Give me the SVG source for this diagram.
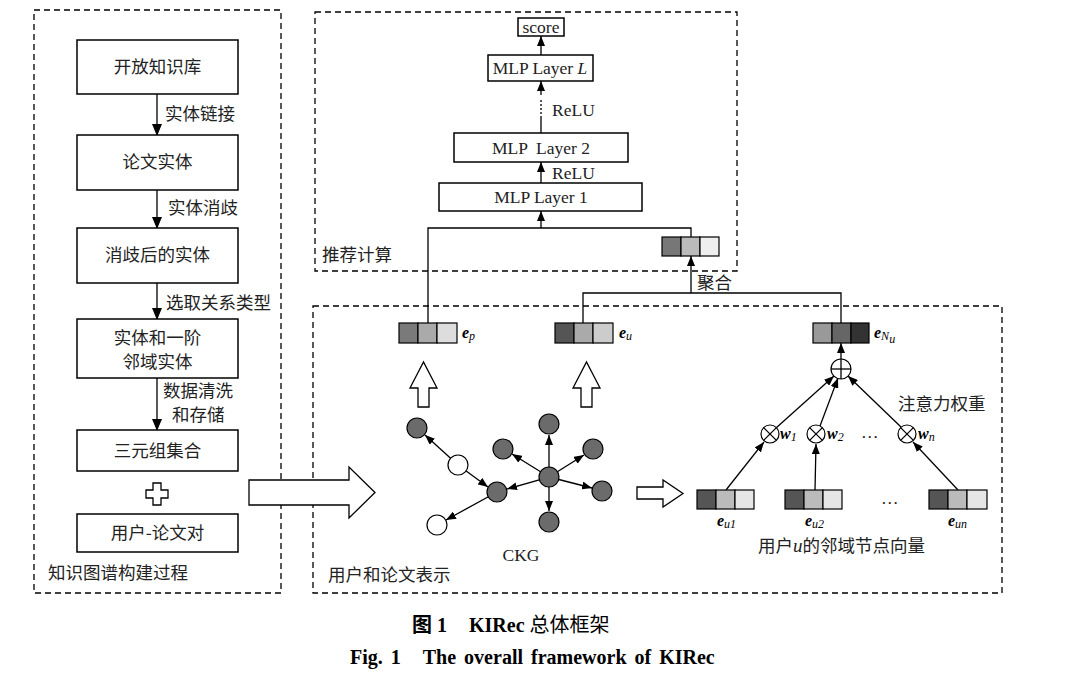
<svg xmlns="http://www.w3.org/2000/svg" width="1089" height="694" viewBox="0 0 1089 694">
<style>
.frame{fill:none;stroke:#000;stroke-width:1.3;stroke-dasharray:6,4}
.box{fill:#fff;stroke:#000;stroke-width:1.5}
.ln{fill:none;stroke:#000;stroke-width:1.3}
.cn{font-family:"Noto Sans CJK SC","Liberation Sans",sans-serif;font-size:17.5px;fill:#222}
.en{font-family:"Liberation Serif",serif;font-size:17.5px;fill:#222}
.hol{fill:#fff;stroke:#000;stroke-width:1.3}
.node{fill:#6b6b6b;stroke:#000;stroke-width:1.2}
.wnode{fill:#fff;stroke:#000;stroke-width:1.2}
.cell{stroke:#000;stroke-width:1.2}
.vl{font-family:"Liberation Serif",serif;font-size:16px;font-weight:bold;font-style:italic}
.sub{font-family:"Liberation Serif",serif;font-size:12px;font-weight:normal;font-style:italic}
.cap{font-family:"Liberation Serif","Noto Sans CJK SC",serif;font-size:20px;font-weight:bold}
</style>
<defs>
<marker id="ah" markerUnits="userSpaceOnUse" markerWidth="12" markerHeight="10" refX="11" refY="5" orient="auto"><path d="M0,0 L12,5 L0,10 z" fill="#000"/></marker>
<marker id="ahs" markerUnits="userSpaceOnUse" markerWidth="10" markerHeight="8" refX="10" refY="4" orient="auto"><path d="M0,0 L10,4 L0,8 z" fill="#000"/></marker>
</defs>

<!-- frames -->
<rect class="frame" x="34" y="10" width="247" height="583"/>
<rect class="frame" x="315" y="12" width="422" height="259"/>
<rect class="frame" x="313" y="306" width="689" height="287"/>
<text class="cn" x="48" y="579">知识图谱构建过程</text>
<text class="cn" x="322" y="261">推荐计算</text>
<text class="cn" x="328" y="581">用户和论文表示</text>

<!-- connectors -->
<g id="connectors">
<line class="ln" x1="157" y1="94" x2="157" y2="135" marker-end="url(#ah)"/>
<line class="ln" x1="157" y1="190" x2="157" y2="228" marker-end="url(#ah)"/>
<line class="ln" x1="157" y1="283" x2="157" y2="319" marker-end="url(#ah)"/>
<line class="ln" x1="157" y1="378" x2="157" y2="430" marker-end="url(#ah)"/>
<text class="cn" x="165" y="120">实体链接</text>
<text class="cn" x="168" y="214">实体消歧</text>
<text class="cn" x="166" y="309">选取关系类型</text>
<text class="cn" x="163" y="397">数据清洗</text>
<text class="cn" x="172" y="421">和存储</text>

<!-- MLP stack -->
<line class="ln" x1="541" y1="55" x2="541" y2="36" marker-end="url(#ahs)"/>
<line class="ln" x1="541" y1="95" x2="541" y2="81" marker-end="url(#ahs)"/>
<line class="ln" x1="541" y1="100" x2="541" y2="118" stroke-dasharray="2,2"/>
<line class="ln" x1="541" y1="133" x2="541" y2="118"/>
<line class="ln" x1="541" y1="183" x2="541" y2="162" marker-end="url(#ahs)"/>
<line class="ln" x1="541" y1="228" x2="541" y2="211" marker-end="url(#ahs)"/>
<text class="en" x="552" y="116">ReLU</text>
<text class="en" x="552" y="179">ReLU</text>
<polyline class="ln" points="428,323 428,228 691,228 691,237"/>
<line class="ln" x1="691" y1="293" x2="691" y2="256" marker-end="url(#ahs)"/>
<polyline class="ln" points="583,323 583,293 841,293 841,323"/>
<text class="cn" x="697" y="289">聚合</text>

<!-- CKG edges -->
<line class="ln" x1="458" y1="465" x2="425" y2="435" marker-end="url(#ahs)"/>
<line class="ln" x1="458" y1="465" x2="488" y2="487" marker-end="url(#ahs)"/>
<line class="ln" x1="497" y1="492" x2="446" y2="520" marker-end="url(#ahs)"/>
<line class="ln" x1="549" y1="477" x2="507" y2="489" marker-end="url(#ahs)"/>
<line class="ln" x1="549" y1="477" x2="549" y2="435" marker-end="url(#ahs)"/>
<line class="ln" x1="549" y1="477" x2="512" y2="454" marker-end="url(#ahs)"/>
<line class="ln" x1="549" y1="477" x2="584" y2="455" marker-end="url(#ahs)"/>
<line class="ln" x1="549" y1="477" x2="592" y2="488" marker-end="url(#ahs)"/>
<line class="ln" x1="549" y1="477" x2="549" y2="511" marker-end="url(#ahs)"/>

<!-- attention -->
<line class="ln" x1="841" y1="359" x2="841" y2="343" marker-end="url(#ahs)"/>
<line class="ln" x1="776" y1="428" x2="834" y2="376" marker-end="url(#ahs)"/>
<line class="ln" x1="820" y1="426" x2="838" y2="378" marker-end="url(#ahs)"/>
<line class="ln" x1="901" y1="427" x2="848" y2="376" marker-end="url(#ahs)"/>
<line class="ln" x1="726" y1="490" x2="764" y2="442" marker-end="url(#ahs)"/>
<line class="ln" x1="815" y1="490" x2="816" y2="444" marker-end="url(#ahs)"/>
<line class="ln" x1="958" y1="490" x2="913" y2="442" marker-end="url(#ahs)"/>
</g>

<!-- left column nodes -->
<g id="n-kb"><rect class="box" x="77" y="40" width="161" height="54"/><text class="cn" x="157.5" y="73" text-anchor="middle">开放知识库</text></g>
<g id="n-paper"><rect class="box" x="77" y="135" width="161" height="55"/><text class="cn" x="157.5" y="168" text-anchor="middle">论文实体</text></g>
<g id="n-disamb"><rect class="box" x="77" y="228" width="161" height="55"/><text class="cn" x="157.5" y="261" text-anchor="middle">消歧后的实体</text></g>
<g id="n-neigh"><rect class="box" x="77" y="319" width="161" height="59"/><text class="cn" x="157.5" y="344" text-anchor="middle">实体和一阶</text><text class="cn" x="157.5" y="368" text-anchor="middle">邻域实体</text></g>
<g id="n-triple"><rect class="box" x="77" y="430" width="161" height="41"/><text class="cn" x="157.5" y="457" text-anchor="middle">三元组集合</text></g>
<g id="n-plus"><path class="hol" d="M153,483 h8 v7 h7 v8 h-7 v7 h-8 v-7 h-7 v-8 h7 z"/></g>
<g id="n-up"><rect class="box" x="77" y="514" width="161" height="38"/><text class="cn" x="157.5" y="539" text-anchor="middle">用户-论文对</text></g>

<!-- big arrow -->
<g id="n-bigarrow"><path class="hol" d="M249,480 H349 V467 L375,492.5 L349,518 V505 H249 z"/></g>

<!-- MLP nodes -->
<g id="n-score"><rect class="box" x="518" y="18" width="46" height="18"/><text class="en" x="541" y="32.5" text-anchor="middle">score</text></g>
<g id="n-mlpL"><rect class="box" x="488" y="55" width="105" height="26"/><text class="en" x="540" y="74" text-anchor="middle">MLP Layer <tspan font-style="italic">L</tspan></text></g>
<g id="n-mlp2"><rect class="box" x="454" y="133" width="174" height="29"/><text class="en" x="541" y="153.5" text-anchor="middle" xml:space="preserve">MLP  Layer 2</text></g>
<g id="n-mlp1"><rect class="box" x="439" y="183" width="203" height="28"/><text class="en" x="541" y="203" text-anchor="middle">MLP Layer 1</text></g>
<g id="n-agg"><rect class="cell" x="662" y="237" width="19" height="19" fill="#777"/><rect class="cell" x="681" y="237" width="19" height="19" fill="#bbb"/><rect class="cell" x="700" y="237" width="19" height="19" fill="#eee"/></g>

<!-- vectors -->
<g id="n-ep"><rect class="cell" x="399" y="323" width="19" height="20" fill="#7a7a7a"/><rect class="cell" x="418" y="323" width="19" height="20" fill="#aaa"/><rect class="cell" x="437" y="323" width="20" height="20" fill="#ddd"/><text class="vl" x="462" y="338">e<tspan class="sub" dy="2">p</tspan></text></g>
<g id="n-eu"><rect class="cell" x="555" y="323" width="19" height="20" fill="#555"/><rect class="cell" x="574" y="323" width="19" height="20" fill="#aaa"/><rect class="cell" x="593" y="323" width="20" height="20" fill="#ccc"/><text class="vl" x="619" y="338">e<tspan class="sub" dy="2">u</tspan></text></g>
<g id="n-eNu"><rect class="cell" x="813" y="323" width="19" height="20" fill="#999"/><rect class="cell" x="832" y="323" width="19" height="20" fill="#666"/><rect class="cell" x="851" y="323" width="18" height="20" fill="#333"/><text class="vl" x="874" y="338">e<tspan class="sub" dy="2" font-size="11">N</tspan><tspan class="sub" dy="3" font-size="8">u</tspan></text></g>

<!-- hollow up arrows -->
<g id="n-uparrow1"><path class="hol" d="M418,407 V388 H410 L423.5,362 L437,388 H429 V407 z"/></g>
<g id="n-uparrow2"><path class="hol" d="M581,407 V388 H573 L586.5,362 L600,388 H592 V407 z"/></g>

<!-- CKG nodes -->
<g id="n-ckg">
<circle class="node" cx="417" cy="428" r="10"/>
<circle class="wnode" cx="458" cy="465" r="10"/>
<circle class="node" cx="497" cy="492" r="10"/>
<circle class="wnode" cx="437" cy="525" r="10"/>
<circle class="node" cx="549" cy="477" r="10"/>
<circle class="node" cx="549" cy="424" r="10"/>
<circle class="node" cx="503" cy="449" r="10"/>
<circle class="node" cx="593" cy="449" r="10"/>
<circle class="node" cx="602" cy="491" r="10"/>
<circle class="node" cx="549" cy="522" r="10"/>
<text class="en" x="521" y="561" text-anchor="middle">CKG</text>
</g>

<!-- small right arrow -->
<g id="n-smallarrow"><path class="hol" d="M637,487 H663 V480 L683,493.5 L663,507 V499 H637 z"/></g>

<!-- aggregation -->
<g id="n-sum"><circle class="wnode" cx="841" cy="369" r="10"/><line class="ln" x1="831" y1="369" x2="851" y2="369"/><line class="ln" x1="841" y1="359" x2="841" y2="379"/></g>
<g id="n-m1"><circle class="wnode" cx="770" cy="434" r="9"/><path class="ln" d="M763.6,427.6 L776.4,440.4 M776.4,427.6 L763.6,440.4"/><text class="vl" x="780" y="439">w<tspan class="sub" dy="2" font-style="normal">1</tspan></text></g>
<g id="n-m2"><circle class="wnode" cx="816" cy="434" r="9"/><path class="ln" d="M809.6,427.6 L822.4,440.4 M822.4,427.6 L809.6,440.4"/><text class="vl" x="827" y="439">w<tspan class="sub" dy="2" font-style="normal">2</tspan></text></g>
<g id="n-mn"><circle class="wnode" cx="907" cy="434" r="9"/><path class="ln" d="M900.6,427.6 L913.4,440.4 M913.4,427.6 L900.6,440.4"/><text class="vl" x="918" y="439">w<tspan class="sub" dy="2">n</tspan></text></g>
<text class="en" x="861" y="438">…</text>
<text class="cn" x="898" y="410">注意力权重</text>

<g id="n-eu1"><rect class="cell" x="697" y="490" width="19" height="19" fill="#555"/><rect class="cell" x="716" y="490" width="19" height="19" fill="#bbb"/><rect class="cell" x="735" y="490" width="19" height="19" fill="#e6e6e6"/><text class="vl" x="717" y="526">e<tspan class="sub" dy="2">u</tspan><tspan class="sub" font-style="normal">1</tspan></text></g>
<g id="n-eu2"><rect class="cell" x="785" y="490" width="19" height="19" fill="#555"/><rect class="cell" x="804" y="490" width="19" height="19" fill="#bbb"/><rect class="cell" x="823" y="490" width="19" height="19" fill="#e6e6e6"/><text class="vl" x="805" y="526">e<tspan class="sub" dy="2">u</tspan><tspan class="sub">2</tspan></text></g>
<g id="n-eun"><rect class="cell" x="929" y="490" width="19" height="19" fill="#555"/><rect class="cell" x="948" y="490" width="19" height="19" fill="#bbb"/><rect class="cell" x="967" y="490" width="20" height="19" fill="#e6e6e6"/><text class="vl" x="948" y="526">e<tspan class="sub" dy="2">un</tspan></text></g>
<text class="en" x="881" y="504">…</text>
<text class="cn" x="758" y="552">用户<tspan font-family="Liberation Serif" font-style="italic" font-size="19">u</tspan>的邻域节点向量</text>

<!-- caption -->
<text class="cap" x="412" y="632">图 1<tspan dx="22">KIRec </tspan><tspan font-weight="normal">总体框架</tspan></text>
<text class="cap" x="350" y="664" word-spacing="3">Fig. 1<tspan dx="22">The overall framework of KIRec</tspan></text>
</svg>
